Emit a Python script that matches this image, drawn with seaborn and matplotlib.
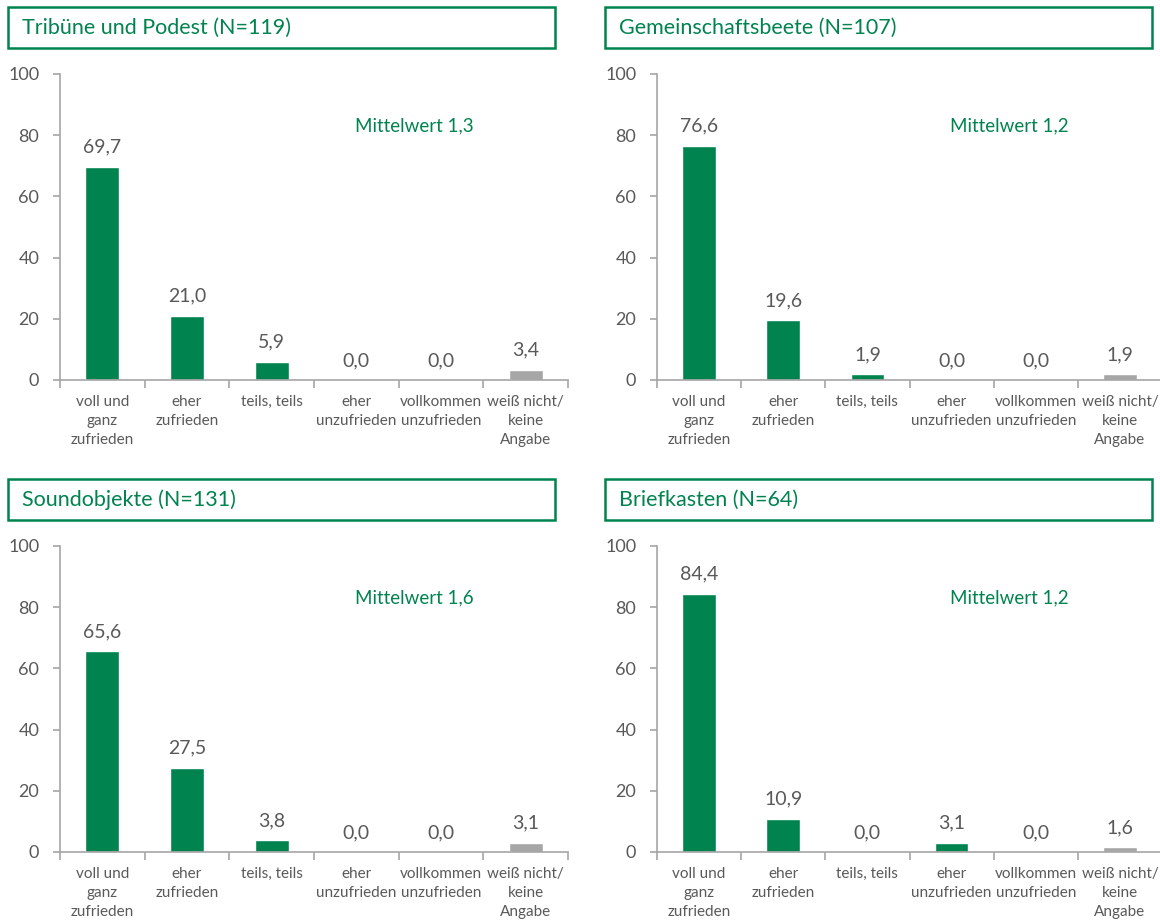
import matplotlib
matplotlib.use("Agg")
import matplotlib.pyplot as plt
from matplotlib.patches import Rectangle
import seaborn as sns
import pandas as pd

sns.set_theme(style="white")
plt.rcParams["font.family"] = ["Lato", "DejaVu Sans"]

categories = [
    "voll und\nganz\nzufrieden",
    "eher\nzufrieden",
    "teils, teils",
    "eher\nunzufrieden",
    "vollkommen\nunzufrieden",
    "weiß nicht/\nkeine\nAngabe",
]
titles = [
    "Tribüne und Podest (N=119)",
    "Gemeinschaftsbeete (N=107)",
    "Soundobjekte (N=131)",
    "Briefkasten (N=64)",
]
tribuene = [69.7, 21.0, 5.9, 0.0, 0.0, 3.4]
beete = [76.6, 19.6, 1.9, 0.0, 0.0, 1.9]
sound = [65.6, 27.5, 3.8, 0.0, 0.0, 3.1]
briefkasten = [84.4, 10.9, 0.0, 3.1, 0.0, 1.6]
means = ["1,3", "1,2", "1,6", "1,2"]

GREEN = "#00834F"
GREY = "#A6A6A6"
TEXT = "#595959"
AXIS = "#A6A6A6"
palette = [GREEN] * 5 + [GREY]

W, H = 1160, 924
fig = plt.figure(figsize=(W / 100, H / 100), dpi=100)

# panel geometry in pixels: (axis left, axis right, y of zero line, title box top,
# title box left, title box right)
panels = [
    (60, 568, 380, 7, 8, 555),
    (657, 1162, 380, 7, 605, 1152),
    (60, 568, 852, 479, 8, 555),
    (657, 1162, 852, 479, 605, 1152),
]
series = [tribuene, beete, sound, briefkasten]
plot_h = 306

for (xl, xr, y0, bt, bl, br), vals, title, mean in zip(panels, series, titles, means):
    ax = fig.add_axes([xl / W, 1 - y0 / H, (xr - xl) / W, plot_h / H])
    df = pd.DataFrame({"Kategorie": categories, "Anteil": vals})
    sns.barplot(data=df, x="Kategorie", y="Anteil", hue="Kategorie",
                palette=palette, order=categories, hue_order=categories,
                width=0.4, legend=False, ax=ax, saturation=1)
    ax.set_xlim(-0.5, 5.5)
    ax.set_ylim(0, 100)
    ax.set_yticks([0, 20, 40, 60, 80, 100])
    ax.set_xlabel("")
    ax.set_ylabel("")
    for s in ["top", "right"]:
        ax.spines[s].set_visible(False)
    for s in ["left", "bottom"]:
        ax.spines[s].set_color(AXIS)
        ax.spines[s].set_linewidth(1.2)
    ax.set_xticks(range(len(categories)))
    ax.set_xticklabels(categories, fontsize=11, color=TEXT, linespacing=1.45)
    ax.set_xticks([i - 0.5 for i in range(len(categories) + 1)], minor=True)
    ax.tick_params(axis="x", which="major", length=0, pad=11)
    ax.tick_params(axis="x", which="minor", length=6, width=1.2, color=AXIS,
                   direction="out", bottom=True)
    ax.tick_params(axis="y", length=5, width=1.2, color=AXIS, direction="out",
                   left=True, labelsize=13, labelcolor=TEXT, pad=10)
    for i, v in enumerate(vals):
        ax.annotate(f"{v:.1f}".replace(".", ","), (i, v), xytext=(0, 8),
                    textcoords="offset points", ha="center", va="bottom",
                    fontsize=14, color=TEXT)
    ax.text(3.68, 83, f"Mittelwert {mean}", ha="center", va="center",
            fontsize=13.5, color=GREEN)
    ax.grid(False)

    # framed panel heading
    fig.patches.append(Rectangle((bl / W, 1 - (bt + 41) / H), (br - bl) / W, 41 / H,
                                 transform=fig.transFigure, fill=False,
                                 edgecolor=GREEN, linewidth=1.8))
    fig.text((bl + 14) / W, 1 - (bt + 21) / H, title, ha="left", va="center",
             fontsize=15.5, color=GREEN)

fig.savefig("out.png", dpi=100, facecolor="white")
